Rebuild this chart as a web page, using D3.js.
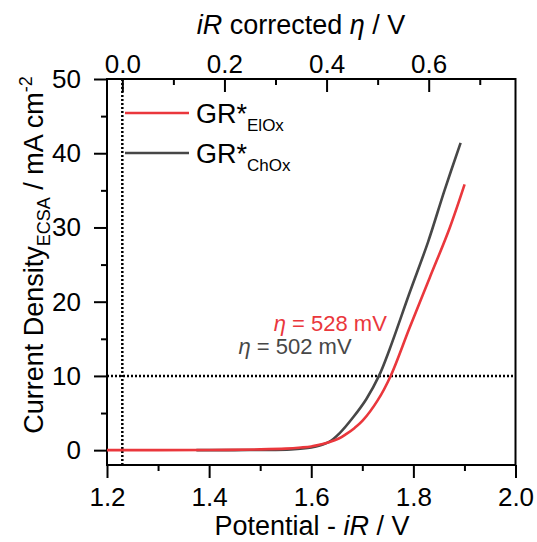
<!DOCTYPE html>
<html>
<head>
<meta charset="utf-8">
<script src="https://cdn.jsdelivr.net/npm/d3@7"></script>
<style>
  body { margin: 0; background: #fff; }
  text { font-family: "Liberation Sans", Arial, sans-serif; fill: #000; }
</style>
</head>
<body>
<div id="chart"></div>
<script>
// LSV data: potential (V, iR corrected) vs current density (mA cm-2)
var elox_potential = [1.20, 1.30, 1.40, 1.50, 1.55, 1.58, 1.60, 1.62, 1.636, 1.655, 1.669, 1.685, 1.701, 1.730, 1.7555, 1.7926, 1.8318, 1.8709, 1.9003];
var elox_current   = [0.0, 0.0, 0.02, 0.1, 0.2, 0.35, 0.5, 0.8, 1.1, 1.6, 2.2, 3.0, 4.0, 6.7, 10.0, 16.5, 23.2, 29.9, 35.8];

var chox_potential = [1.375, 1.45, 1.50, 1.56, 1.60, 1.62, 1.635, 1.6557, 1.6817, 1.708, 1.7326, 1.7535, 1.7926, 1.8285, 1.861, 1.8925];
var chox_current   = [0.0, 0.01, 0.03, 0.1, 0.35, 0.7, 1.1, 2.3, 4.4, 6.9, 10.0, 13.6, 21.2, 28.0, 35.0, 41.4];

var xTicks = [1.2, 1.4, 1.6, 1.8, 2.0];
var xMinor = [1.3, 1.5, 1.7, 1.9];
var topTicks = [0.0, 0.2, 0.4, 0.6];
var topMinor = [0.1, 0.3, 0.5, 0.7];
var yTicks = [0, 10, 20, 30, 40, 50];
var yMinor = [5, 15, 25, 35, 45];

var E_rev = 1.23;      // thermodynamic OER potential (dotted vertical)
var j_ref = 10;        // reference current density (dotted horizontal)

var svgWidth = 537;
var svgHeight = 542;
var margin = { top: 79, right: 21.5, bottom: 77, left: 107 };
var width = svgWidth - margin.left - margin.right;
var height = svgHeight - margin.top - margin.bottom;

var red = "#ea373c";
var gray = "#474747";

var svg = d3.select("#chart")
  .append("svg")
  .attr("width", svgWidth)
  .attr("height", svgHeight);

var chartGroup = svg.append("g")
  .attr("transform", `translate(${margin.left}, ${margin.top})`);

var xScale = d3.scaleLinear().domain([1.2, 2.0]).range([0, width]);
var topScale = d3.scaleLinear().domain([1.2 - E_rev, 2.0 - E_rev]).range([0, width]);
var yScale = d3.scaleLinear().domain([-2, 50]).range([height, 0]);

// axes
function styleAxis(g) {
  g.select(".domain").remove();
  g.selectAll("line").attr("stroke", "#000").attr("stroke-width", 2);
  g.selectAll("text").style("font-size", "26px").style("fill", "#000");
}

var bottomAxis = d3.axisBottom(xScale).tickValues(xTicks).tickSize(13).tickPadding(10).tickFormat(d3.format(".1f"));
chartGroup.append("g")
  .attr("transform", `translate(0, ${height})`)
  .call(bottomAxis)
  .call(styleAxis);
chartGroup.append("g")
  .attr("transform", `translate(0, ${height})`)
  .call(d3.axisBottom(xScale).tickValues(xMinor).tickSize(6).tickFormat(""))
  .call(styleAxis);

var leftAxis = d3.axisLeft(yScale).tickValues(yTicks).tickSize(13).tickPadding(13);
chartGroup.append("g")
  .call(leftAxis)
  .call(styleAxis);
chartGroup.append("g")
  .call(d3.axisLeft(yScale).tickValues(yMinor).tickSize(6).tickFormat(""))
  .call(styleAxis);

// top axis: ticks point into the plot, labels above
var topAxis = d3.axisTop(topScale).tickValues(topTicks).tickSize(-13).tickFormat(d3.format(".1f"));
var topG = chartGroup.append("g")
  .call(topAxis)
  .call(styleAxis);
topG.selectAll("text").attr("y", -6);
chartGroup.append("g")
  .call(d3.axisTop(topScale).tickValues(topMinor).tickSize(-6).tickFormat(""))
  .call(styleAxis);

// frame
chartGroup.append("rect")
  .attr("x", 0)
  .attr("y", 0)
  .attr("width", width)
  .attr("height", height)
  .attr("fill", "none")
  .attr("stroke", "#000")
  .attr("stroke-width", 2);

// reference lines
chartGroup.append("line")
  .attr("x1", xScale(E_rev)).attr("x2", xScale(E_rev))
  .attr("y1", 0).attr("y2", height)
  .attr("stroke", "#000").attr("stroke-width", 2.5)
  .attr("stroke-dasharray", "2,2");
chartGroup.append("line")
  .attr("x1", 0).attr("x2", width)
  .attr("y1", yScale(j_ref)).attr("y2", yScale(j_ref))
  .attr("stroke", "#000").attr("stroke-width", 2.5)
  .attr("stroke-dasharray", "2,2");

// curves
var line = d3.line()
  .x(d => xScale(d[0]))
  .y(d => yScale(d[1]))
  .curve(d3.curveCatmullRom.alpha(0.5));

chartGroup.append("path")
  .datum(d3.zip(chox_potential, chox_current))
  .attr("d", line)
  .attr("fill", "none")
  .attr("stroke", gray)
  .attr("stroke-width", 2.6);

chartGroup.append("path")
  .datum(d3.zip(elox_potential, elox_current))
  .attr("d", line)
  .attr("fill", "none")
  .attr("stroke", red)
  .attr("stroke-width", 2.6);

// legend
var legend = [
  { name: "GR*", sub: "ElOx", color: red, y: 34 },
  { name: "GR*", sub: "ChOx", color: gray, y: 74 }
];
legend.forEach(function(l) {
  chartGroup.append("line")
    .attr("x1", 18).attr("x2", 82)
    .attr("y1", l.y).attr("y2", l.y)
    .attr("stroke", l.color).attr("stroke-width", 2.6);
  var t = chartGroup.append("text")
    .attr("x", 89)
    .attr("y", l.y + 10)
    .style("font-size", "27px");
  t.append("tspan").text(l.name);
  t.append("tspan").attr("dy", 8).style("font-size", "17px").text(l.sub);
});

// overpotential annotations
var ann1 = chartGroup.append("text")
  .attr("x", xScale(1.748))
  .attr("y", yScale(16.0))
  .attr("text-anchor", "end")
  .style("font-size", "22px")
  .style("fill", red);
ann1.append("tspan").style("font-style", "italic").style("fill", red).text("η");
ann1.append("tspan").style("fill", red).text(" = 528 mV");

var ann2 = chartGroup.append("text")
  .attr("x", xScale(1.679))
  .attr("y", yScale(12.9))
  .attr("text-anchor", "end")
  .style("font-size", "22px")
  .style("fill", gray);
ann2.append("tspan").style("font-style", "italic").style("fill", gray).text("η");
ann2.append("tspan").style("fill", gray).text(" = 502 mV");

// axis titles
var xTitle = svg.append("text")
  .attr("x", 312)
  .attr("y", 535)
  .attr("text-anchor", "middle")
  .style("font-size", "27px");
xTitle.append("tspan").text("Potential - ");
xTitle.append("tspan").style("font-style", "italic").text("iR");
xTitle.append("tspan").text(" / V");

var topTitle = svg.append("text")
  .attr("x", 301)
  .attr("y", 34)
  .attr("text-anchor", "middle")
  .style("font-size", "27px");
topTitle.append("tspan").style("font-style", "italic").text("iR");
topTitle.append("tspan").text(" corrected ");
topTitle.append("tspan").style("font-style", "italic").text("η");
topTitle.append("tspan").text(" / V");

var yTitle = svg.append("text")
  .attr("transform", `translate(43, 255) rotate(-90)`)
  .attr("text-anchor", "middle")
  .style("font-size", "27px");
yTitle.append("tspan").text("Current Density");
yTitle.append("tspan").attr("dy", 7).style("font-size", "18px").text("ECSA");
yTitle.append("tspan").attr("dy", -7).text(" / mA cm");
yTitle.append("tspan").attr("dy", -11).style("font-size", "18px").text("-2");
</script>
</body>
</html>
